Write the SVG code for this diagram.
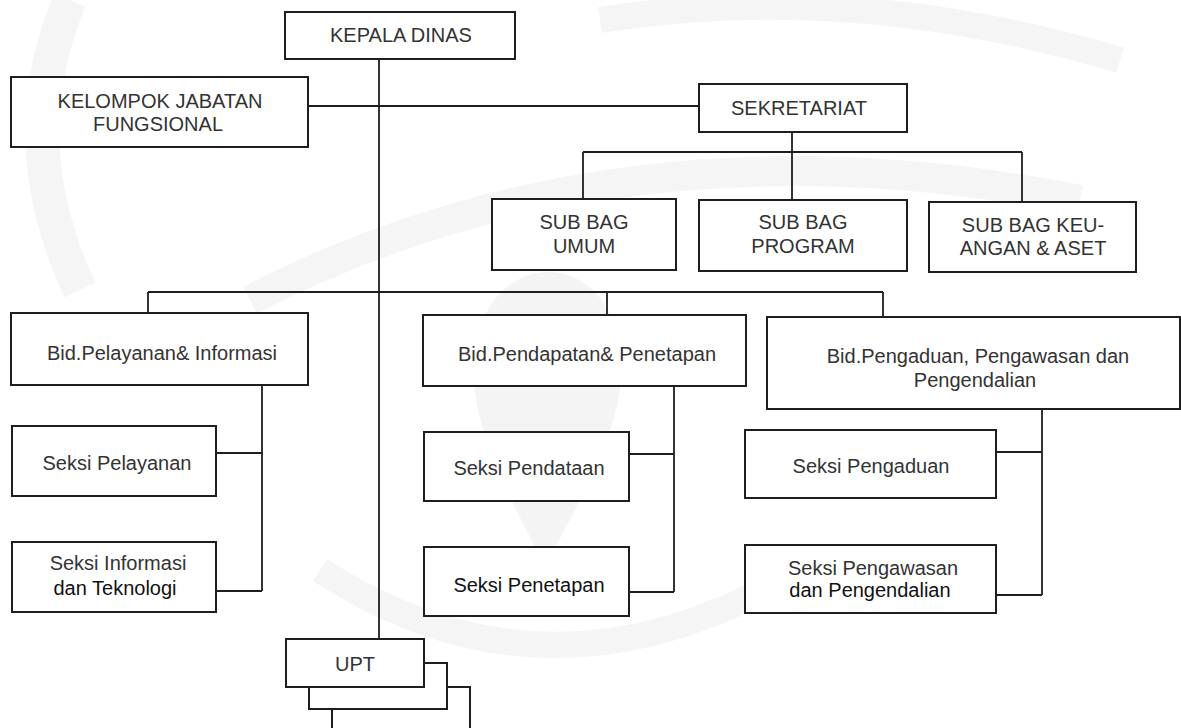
<svg xmlns="http://www.w3.org/2000/svg" width="1181" height="728" viewBox="0 0 1181 728">
  <style>
    .box { fill: #ffffff; stroke: #1e1e1e; stroke-width: 2; }
    .link { fill: none; stroke: #1e1e1e; stroke-width: 1.8; }
    .lbl { font-family: "Liberation Sans", Arial, sans-serif; font-size: 20px; fill: #333333; text-anchor: middle; }
    .dark { fill: #111111; }
    .mark { fill: #f4f4f4; }
    .markline { fill: none; stroke: #f5f5f5; }
  </style>

  <rect width="1181" height="728" fill="#ffffff"/>

  <!-- faint emblem in the background -->
  <g id="emblem">
    <path class="markline" stroke-width="34" d="M 70 0 Q 10 140 80 290"/>
    <path class="markline" stroke-width="30" d="M 250 300 Q 620 110 1080 200"/>
    <path class="markline" stroke-width="26" d="M 600 20 Q 850 -20 1120 60"/>
    <path class="markline" stroke-width="26" d="M 320 570 Q 550 720 800 570"/>
    <path class="mark" d="M 545 566 C 500 480 470 420 474 360 C 478 300 515 272 548 272 C 582 272 618 300 621 360 C 624 420 592 480 545 566 Z"/>
  </g>

  <!-- connectors -->
  <g id="connectors">
    <!-- head down to UPT -->
    <path class="link" d="M 379 59 V 639"/>
    <!-- functional group to secretariat -->
    <path class="link" d="M 308 106 H 699"/>
    <!-- secretariat to sub sections -->
    <path class="link" d="M 792 132 V 152 M 583 152 H 1022 M 583 152 V 199 M 792 152 V 200 M 1022 152 V 202"/>
    <!-- bus to the three fields -->
    <path class="link" d="M 148 292 H 883 M 148 292 V 313 M 607 292 V 315 M 883 292 V 317"/>
    <!-- field sections -->
    <path class="link" d="M 262 385 V 591 M 216 453 H 262 M 216 591 H 262"/>
    <path class="link" d="M 674 386 V 592 M 629 454 H 674 M 629 592 H 674"/>
    <path class="link" d="M 1042 409 V 595 M 996 452 H 1042 M 996 595 H 1042"/>
  </g>

  <g id="kepala-dinas">
    <rect class="box" x="285" y="12" width="230" height="47"/>
    <text class="lbl" x="401" y="42">KEPALA DINAS</text>
  </g>

  <g id="kelompok-jabatan-fungsional">
    <rect class="box" x="11" y="77" width="297" height="70"/>
    <text class="lbl" x="160" y="108">KELOMPOK JABATAN</text>
    <text class="lbl" x="158" y="131">FUNGSIONAL</text>
  </g>

  <g id="sekretariat">
    <rect class="box" x="699" y="84" width="208" height="48"/>
    <text class="lbl" x="799" y="115">SEKRETARIAT</text>
  </g>

  <g id="subbag-umum">
    <rect class="box" x="492" y="199" width="184" height="71"/>
    <text class="lbl" x="584" y="229">SUB BAG</text>
    <text class="lbl" x="584" y="253">UMUM</text>
  </g>

  <g id="subbag-program">
    <rect class="box" x="699" y="200" width="208" height="71"/>
    <text class="lbl" x="803" y="229">SUB BAG</text>
    <text class="lbl" x="803" y="253">PROGRAM</text>
  </g>

  <g id="subbag-keuangan">
    <rect class="box" x="929" y="202" width="207" height="70"/>
    <text class="lbl" x="1033" y="232">SUB BAG KEU-</text>
    <text class="lbl" x="1033" y="255">ANGAN &amp; ASET</text>
  </g>

  <g id="bid-pelayanan">
    <rect class="box" x="11" y="313" width="297" height="72"/>
    <text class="lbl" x="162" y="360">Bid.Pelayanan&amp; Informasi</text>
  </g>

  <g id="seksi-pelayanan">
    <rect class="box" x="12" y="426" width="204" height="70"/>
    <text class="lbl" x="117" y="470">Seksi Pelayanan</text>
  </g>

  <g id="seksi-informasi">
    <rect class="box" x="12" y="542" width="204" height="70"/>
    <text class="lbl" x="118" y="570">Seksi Informasi</text>
    <text class="lbl dark" x="115" y="595">dan Teknologi</text>
  </g>

  <g id="bid-pendapatan">
    <rect class="box" x="423" y="315" width="323" height="71"/>
    <text class="lbl" x="587" y="361">Bid.Pendapatan&amp; Penetapan</text>
  </g>

  <g id="seksi-pendataan">
    <rect class="box" x="424" y="432" width="205" height="69"/>
    <text class="lbl" x="529" y="475">Seksi Pendataan</text>
  </g>

  <g id="seksi-penetapan">
    <rect class="box" x="424" y="547" width="205" height="69"/>
    <text class="lbl dark" x="529" y="592">Seksi Penetapan</text>
  </g>

  <g id="bid-pengaduan">
    <rect class="box" x="767" y="317" width="413" height="92"/>
    <text class="lbl" x="978" y="363">Bid.Pengaduan, Pengawasan dan</text>
    <text class="lbl" x="975" y="387">Pengendalian</text>
  </g>

  <g id="seksi-pengaduan">
    <rect class="box" x="745" y="430" width="251" height="68"/>
    <text class="lbl" x="871" y="473">Seksi Pengaduan</text>
  </g>

  <g id="seksi-pengawasan">
    <rect class="box" x="745" y="545" width="251" height="68"/>
    <text class="lbl" x="873" y="575">Seksi Pengawasan</text>
    <text class="lbl dark" x="870" y="597">dan Pengendalian</text>
  </g>

  <!-- stacked UPT boxes, back to front -->
  <g id="upt">
    <rect class="box" x="332" y="687" width="138" height="60"/>
    <rect class="box" x="309" y="663" width="138" height="46"/>
    <rect class="box" x="286" y="639" width="138" height="48"/>
    <text class="lbl" x="355" y="671">UPT</text>
  </g>
</svg>
